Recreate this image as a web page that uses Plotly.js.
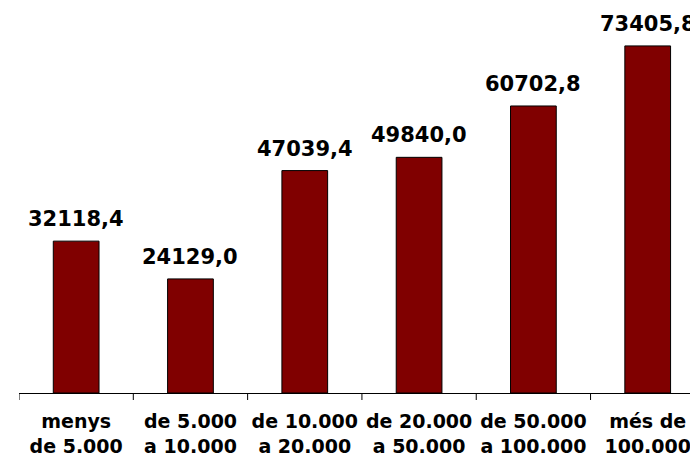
<!DOCTYPE html>
<html>
<head>
<meta charset="utf-8">
<script src="https://cdn.plot.ly/plotly-3.0.1.min.js"></script>
<style>
html,body{margin:0;padding:0;overflow:hidden;background:#fff;}
#chart{width:690px;height:459px;}
</style>
</head>
<body>
<div id="chart"></div>
<script>
var categories = ["menys<br>de 5.000", "de 5.000<br>a 10.000", "de 10.000<br>a 20.000", "de 20.000<br>a 50.000", "de 50.000<br>a 100.000", "més de<br>100.000"];
var values = [32118.4, 24129.0, 47039.4, 49840.0, 60702.8, 73405.8];

var labels = values.map(function(v){ return v.toFixed(1).replace('.', ','); });
var xs = categories.map(function(c, i){ return i; });

var FONT = "DejaVu Sans, Arial, sans-serif";

var annotations = values.map(function(v, i){
  return {
    x: i, y: v, xref: 'x', yref: 'y',
    text: '<b>' + labels[i] + '</b>',
    showarrow: false, yanchor: 'bottom', xanchor: 'center',
    yshift: 8,
    font: {family: FONT, size: 21, color: '#000'}
  };
});

var trace = {
  type: 'bar',
  x: xs,
  y: values,
  width: 0.4,
  marker: {color: '#800000', line: {color: '#000', width: 1}},
  hoverinfo: 'none'
};

var layout = {
  width: 690, height: 459,
  margin: {l: 19, r: 0, t: 10, b: 66},
  paper_bgcolor: '#fff', plot_bgcolor: '#fff',
  showlegend: false,
  bargap: 0.6,
  xaxis: {
    type: 'linear',
    range: [-0.5, 5.37],
    tickmode: 'array',
    tickvals: xs,
    ticktext: categories.map(function(c){ return '<b>' + c + '</b>'; }),
    showgrid: false, zeroline: false,
    showline: true, linecolor: '#000', linewidth: 1,
    ticks: '',
    ticklabeloverflow: 'allow',
    ticklabelstandoff: 11,
    tickfont: {family: FONT, size: 19, color: '#000'}
  },
  yaxis: {
    range: [0, 81000],
    visible: false, showgrid: false, zeroline: false
  },
  annotations: annotations,
  shapes: [-0.5, 0.5, 1.5, 2.5, 3.5, 4.5, 5.5].map(function(b){
    return {type: 'line', xref: 'x', yref: 'paper', x0: b, x1: b,
            line: {color: '#000', width: 1}, ysizemode: 'pixel', yanchor: 0, y0: 0, y1: -7};
  })
};

Plotly.newPlot('chart', [trace], layout, {displayModeBar: false, staticPlot: true});
</script>
</body>
</html>
